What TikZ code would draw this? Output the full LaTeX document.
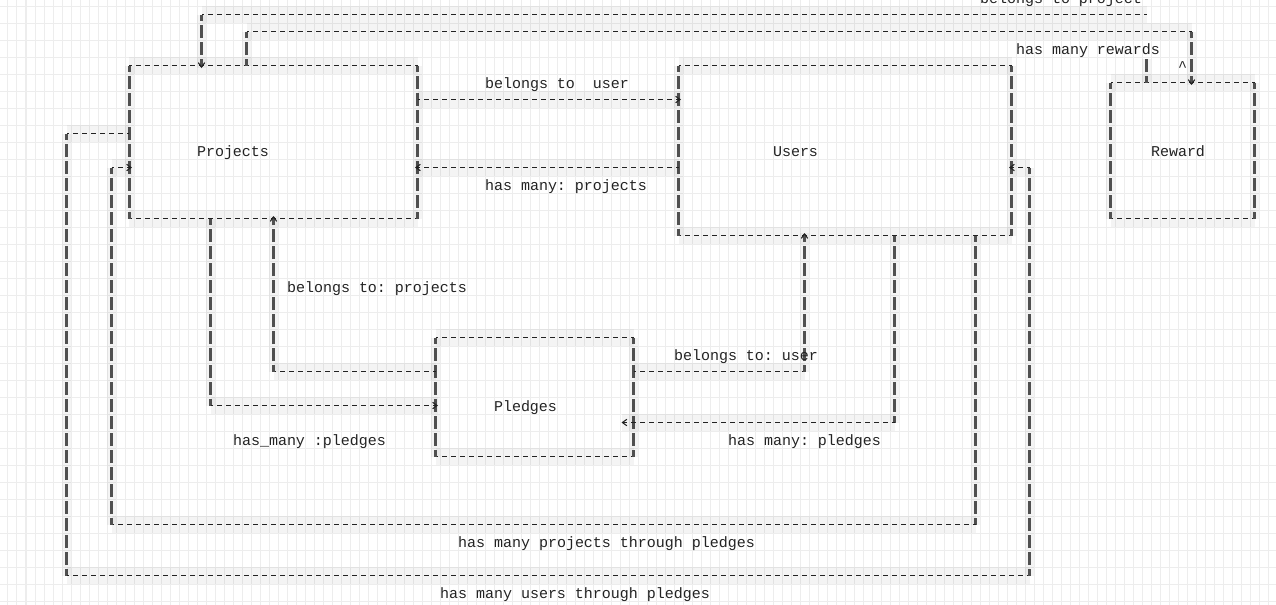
\documentclass[tikz,border=0pt]{standalone}
\usepackage{fontspec}
\setmonofont{Liberation Mono}
\usetikzlibrary{arrows.meta}
\definecolor{ink}{HTML}{222222}
\definecolor{bar}{HTML}{505050}
\definecolor{band}{HTML}{F4F4F4}
\definecolor{gridcol}{HTML}{EDEDED}
\tikzset{
  entity/.style={inner sep=0pt, outer sep=0pt},
  gridline/.style={draw=gridcol, line width=0.02cm},
  hline/.style={draw=ink, line width=0.6pt, dash pattern=on 0.1cm off 0.08cm, dash phase=0.05cm,
    preaction={-, draw=band, solid, line width=0.34cm, blend mode=multiply}},
  vline/.style={draw=bar, line width=1.5pt, dash pattern=on 0.26cm off 0.08cm, dash phase=0.13cm,
    preaction={-, draw=band, solid, line width=0.18cm, blend mode=multiply}},
  into/.style={->, shorten >=-0.05cm},
  txt/.style={inner sep=0pt, anchor=base, text=ink, font=\ttfamily\fontsize{8.53}{10}\selectfont}
}
\begin{document}
\begin{tikzpicture}[x=0.18cm, y=-0.34cm, >={Straight Barb[length=0.09cm, width=0.13cm, line width=0.6pt, color=ink]}]
  \useasboundingbox (-0.3889,0.147) rectangle (141.389,35.676);
  % cell grid
  \begin{scope}
    \clip (-0.3889,0.147) rectangle (141.389,35.676);
    \foreach \i in {0,...,141} \draw[gridline] (\i+0.5,0) -- (\i+0.5,36);
    \foreach \j in {0,...,35} \draw[gridline] (-1,\j+0.5) -- (142,\j+0.5);
  \end{scope}

  % tables
  \node[entity, minimum width=5.76cm, minimum height=3.06cm] (projects) at (30,8.5) {};
  \node[entity, minimum width=6.66cm, minimum height=3.4cm] (users) at (93.5,9) {};
  \node[entity, minimum width=2.88cm, minimum height=2.72cm] (reward) at (131,9) {};
  \node[entity, minimum width=3.96cm, minimum height=2.38cm] (pledges) at (59,23.5) {};
  \foreach \b in {projects,users,reward,pledges} {
    \draw[hline] (\b.north west) -- (\b.north east) (\b.south west) -- (\b.south east);
    \draw[vline] (\b.north west) -- (\b.south west) (\b.north east) -- (\b.south east);
  }
  \node[txt] (projectsname) at (25.5,9.33) {Projects};
  \node[txt] (usersname) at (88,9.33) {Users};
  \node[txt] (rewardname) at (130.5,9.33) {Reward};
  \node[txt] (pledgesname) at (58,24.33) {Pledges};

  % belongs to project
  \coordinate (bp0) at (127,3.62);
  \coordinate (bp1) at (127,1);
  \coordinate (bp2) at (22,1);
  \draw[vline] (reward.north -| bp0) -- (bp0);
  \draw[hline] (bp1) -- (bp2);
  \draw[vline,into] (bp2) -- (projects.north -| bp2);
  \node[txt] (lblproject) at (117.5,0.33) {belongs to project};

  % has many rewards
  \coordinate (hr1) at (27,2);
  \coordinate (hr2) at (132,2);
  \draw[vline] (projects.north -| hr1) -- (hr1);
  \draw[hline] (hr1) -- (hr2);
  \draw[vline,into] (hr2) -- (reward.north -| hr2);
  \node[txt] (caret) at (131,4.33) {\textasciicircum};
  \node[txt] (lblrewards) at (120.5,3.33) {has many rewards};

  % projects <-> users
  \coordinate (bu) at (60,6);
  \coordinate (hp) at (60,10);
  \draw[hline,into] (projects.east |- bu) -- (users.west |- bu);
  \draw[hline,into] (users.west |- hp) -- (projects.east |- hp);
  \node[txt] (lbluser) at (61.5,5.33) {belongs to\ \ user};
  \node[txt] (lblprojects) at (62.5,11.33) {has many: projects};

  % has many users through pledges
  \coordinate (hu1) at (7,8);
  \coordinate (hu2) at (7,34);
  \coordinate (hu3) at (114,34);
  \coordinate (hu4) at (114,10);
  \draw[hline] (projects.west |- hu1) -- (hu1);
  \draw[vline] (hu1) -- (hu2);
  \draw[hline] (hu2) -- (hu3);
  \draw[vline] (hu3) -- (hu4);
  \draw[hline,into] (hu4) -- (users.east |- hu4);
  \node[txt] (lblusersthrough) at (63.5,35.33) {has many users through pledges};

  % has many projects through pledges
  \coordinate (pp1) at (108,31);
  \coordinate (pp2) at (12,31);
  \coordinate (pp3) at (12,10);
  \draw[vline] (users.south -| pp1) -- (pp1);
  \draw[hline] (pp1) -- (pp2);
  \draw[vline] (pp2) -- (pp3);
  \draw[hline,into] (pp3) -- (projects.west |- pp3);
  \node[txt] (lblprojectsthrough) at (67,32.33) {has many projects through pledges};

  % projects <-> pledges
  \coordinate (hm1) at (23,24);
  \coordinate (bj1) at (30,22);
  \draw[vline] (projects.south -| hm1) -- (hm1);
  \draw[hline,into] (hm1) -- (pledges.west |- hm1);
  \draw[hline] (pledges.west |- bj1) -- (bj1);
  \draw[vline,into] (bj1) -- (projects.south -| bj1);
  \node[txt] (lblbelongsprojects) at (41.5,17.33) {belongs to: projects};
  \node[txt] (lblhasmany) at (34,26.33) {has\_many :pledges};

  % users <-> pledges
  \coordinate (bs1) at (89,22);
  \coordinate (hg1) at (99,25);
  \draw[hline] (pledges.east |- bs1) -- (bs1);
  \draw[vline,into] (bs1) -- (users.south -| bs1);
  \draw[vline] (users.south -| hg1) -- (hg1);
  \draw[hline,->, shorten >=-0.24cm] (hg1) -- (pledges.east |- hg1);
  \node[txt] (lblbelongsuser) at (82.5,21.33) {belongs to: user};
  \node[txt] (lblpledges) at (89,26.33) {has many: pledges};
\end{tikzpicture}
\end{document}
